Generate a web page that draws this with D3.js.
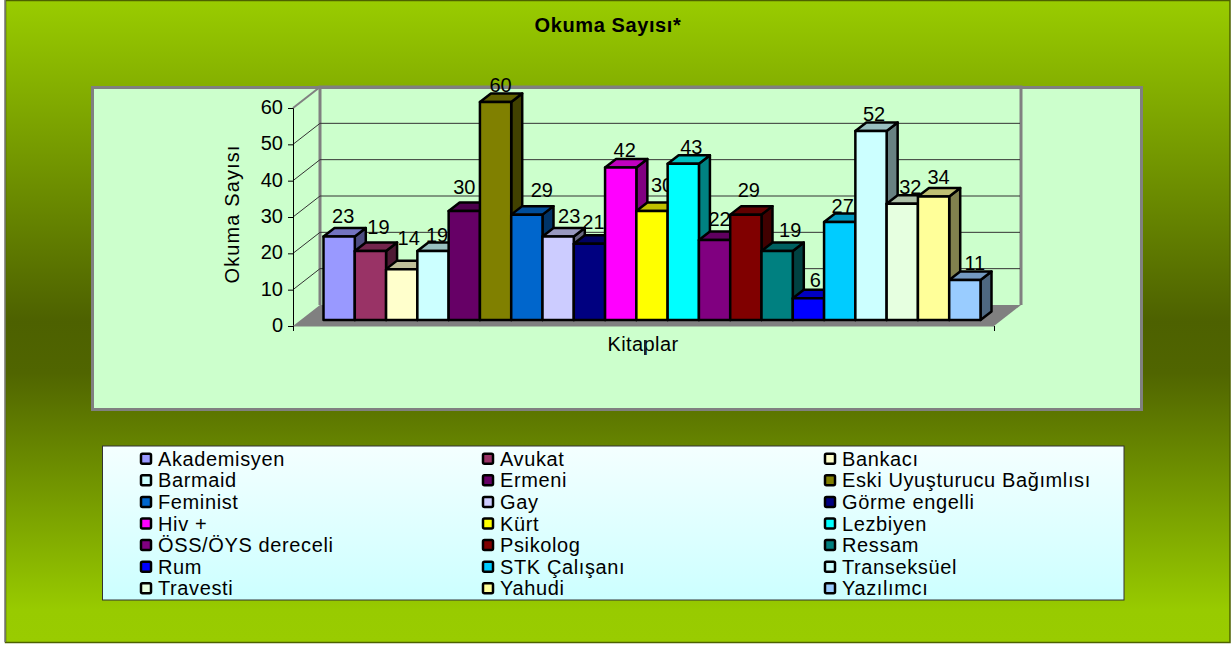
<!DOCTYPE html>
<html>
<head>
<meta charset="utf-8">
<script src="https://cdn.jsdelivr.net/npm/d3@7"></script>
<style>
  html, body { margin: 0; padding: 0; background: #fff; }
  svg { display: block; }
  text { font-family: "Liberation Sans", Arial, sans-serif; fill: #000; }
</style>
</head>
<body>
<div id="chart"></div>
<script>
// Values
const categories = ["Akademisyen", "Avukat", "Bankacı", "Barmaid", "Ermeni", "Eski Uyuşturucu Bağımlısı", "Feminist",
    "Gay", "Görme engelli", "Hiv +", "Kürt", "Lezbiyen", "ÖSS/ÖYS dereceli", "Psikolog", "Ressam", "Rum",
    "STK Çalışanı", "Transeksüel", "Travesti", "Yahudi", "Yazılımcı"];
const values = [23, 19, 14, 19, 30, 60, 29, 23, 21, 42, 30, 43, 22, 29, 19, 6, 27, 52, 32, 34, 11];
const colors = ["#9999ff", "#993366", "#ffffcc", "#ccffff", "#660066", "#808000", "#0066cc",
    "#ccccff", "#000080", "#ff00ff", "#ffff00", "#00ffff", "#800080", "#800000", "#008080", "#0000ff",
    "#00ccff", "#ccffff", "#e6ffe0", "#ffff99", "#99ccff"];
const yTicks = [0, 10, 20, 30, 40, 50, 60];

const width = 1232, height = 646;
const svg = d3.select("#chart").append("svg").attr("width", width).attr("height", height);

// Data labels sit unevenly in the original, so each one gets its own nudge
const labelNudgeX = [4, 8, 7, 4, 0, 5, 15, 11, 4, 4, 10, 8, 5, 3, 13, 7, 3, 3, 8, 5, 10];
const labelNudgeY = [13, 17, 24, 9, 17, 10, 18, 13, 15, 10, 19, 10, 14, 18, 14, 11, 9, 10, 10, 12, 10];

// Gradients
const defs = svg.append("defs");
const bg = defs.append("linearGradient").attr("id", "bg").attr("x1", 0).attr("y1", 0).attr("x2", 0).attr("y2", 1);
bg.append("stop").attr("offset", "0%").attr("stop-color", "#99cc00");
bg.append("stop").attr("offset", "50%").attr("stop-color", "#4d6100");
bg.append("stop").attr("offset", "58%").attr("stop-color", "#506500");
bg.append("stop").attr("offset", "95%").attr("stop-color", "#98cb00");
bg.append("stop").attr("offset", "100%").attr("stop-color", "#99cc00");
const lg = defs.append("linearGradient").attr("id", "lg").attr("x1", 0).attr("y1", 0).attr("x2", 0).attr("y2", 1);
lg.append("stop").attr("offset", "0%").attr("stop-color", "#f4ffff");
lg.append("stop").attr("offset", "100%").attr("stop-color", "#ccffff");

// Outer panel
svg.append("rect").attr("x", 5.5).attr("y", 0.5).attr("width", 1224.5).attr("height", 642)
    .attr("fill", "url(#bg)").attr("stroke", "#4d6100").attr("stroke-width", 1.5);
svg.append("line").attr("x1", 5).attr("x2", 5).attr("y1", 0).attr("y2", 642).attr("stroke", "#808080").attr("stroke-width", 1.5);

svg.append("text").attr("x", 608).attr("y", 32).attr("text-anchor", "middle")
    .style("font-size", "20px").style("font-weight", "bold").style("letter-spacing", "0.6px").text("Okuma Sayısı*");

// Plot area
svg.append("rect").attr("x", 92.5).attr("y", 87.5).attr("width", 1049).attr("height", 322)
    .attr("fill", "#ccffcc").attr("stroke", "#808080").attr("stroke-width", 3);

// Scales, front plane of the 3D box
const y = d3.scaleLinear().domain([0, 60]).range([326, 108]);
const x = d3.scaleBand().domain(categories).range([323.5, 980.5]);
const wallDx = 27, wallDy = -21;      // front plane to back wall
const barDx = 11, barDy = -8.5;       // bar depth
const barLift = -6;                   // bars stand a little behind the front edge
const frontLeft = 293, frontRight = 994;

// Floor
svg.append("path")
    .attr("d", `M${frontLeft},${y(0)}L${frontLeft + wallDx},${y(0) + wallDy}H${frontRight + wallDx}L${frontRight},${y(0)}Z`)
    .attr("fill", "#808080");

// Walls
svg.append("path")
    .attr("d", `M${frontLeft + wallDx},${y(0) + wallDy}V${y(60) + wallDy}H${frontRight + wallDx}V${y(0) + wallDy}`)
    .attr("fill", "none").attr("stroke", "#808080").attr("stroke-width", 3);
svg.append("line")
    .attr("x1", frontLeft).attr("y1", y(60)).attr("x2", frontLeft + wallDx).attr("y2", y(60) + wallDy)
    .attr("stroke", "#808080").attr("stroke-width", 2);

// Gridlines on side and back wall
const grid = svg.append("g").attr("stroke", "#333").attr("fill", "none").attr("stroke-width", 1);
yTicks.filter(d => d > 0 && d < 60).forEach(d => {
    grid.append("path").attr("d", `M${frontLeft},${y(d)}L${frontLeft + wallDx},${y(d) + wallDy}H${frontRight + wallDx - 1}`);
});

// Axes
const yAxis = d3.axisLeft(y).tickValues(yTicks).tickSize(5).tickPadding(5);
const yg = svg.append("g").attr("transform", `translate(${frontLeft},0)`).call(yAxis);
yg.selectAll("text").style("font-size", "20px").attr("dy", "0.28em");
yg.selectAll("line, path").attr("stroke", "#000");

svg.append("line").attr("x1", frontLeft).attr("x2", frontRight).attr("y1", y(0)).attr("y2", y(0))
    .attr("stroke", "#808080").attr("stroke-width", 1);
[frontLeft, frontRight].forEach(d => {
    svg.append("line").attr("x1", d + 0.5).attr("x2", d + 0.5).attr("y1", y(0)).attr("y2", y(0) + 5)
        .attr("stroke", "#000");
});

// Bars, painted left to right so each hides the label of the one before
const shade = (c, k) => d3.rgb(c).darker(k).formatHex();
const bars = svg.selectAll("g.bar").data(categories).enter().append("g").attr("class", "bar");
bars.each(function (d, i) {
    const g = d3.select(this);
    const x0 = x(d), x1 = x0 + x.bandwidth();
    const top = y(values[i]) + barLift, base = y(0) + barLift;
    const face = (path, fill) => g.append("path").attr("d", path).attr("fill", fill)
        .attr("stroke", "#000").attr("stroke-width", 2.5).attr("stroke-linejoin", "round");
    face(`M${x1},${base}L${x1 + barDx},${base + barDy}V${top + barDy}L${x1},${top}Z`, shade(colors[i], 1.9));
    face(`M${x0},${top}L${x0 + barDx},${top + barDy}H${x1 + barDx}L${x1},${top}Z`, shade(colors[i], 0.8));
    face(`M${x0},${base}V${top}H${x1}V${base}Z`, colors[i]);
    g.append("text").attr("x", x0 + x.bandwidth() / 2 + labelNudgeX[i]).attr("y", top - labelNudgeY[i])
        .attr("text-anchor", "middle").style("font-size", "20px").text(values[i]);
});

// Axis titles
svg.append("text").attr("transform", "translate(239,214) rotate(-90)").attr("text-anchor", "middle")
    .style("font-size", "20px").style("letter-spacing", "1.1px").text("Okuma Sayısı");
svg.append("text").attr("x", 643).attr("y", 351).attr("text-anchor", "middle")
    .style("font-size", "20px").style("letter-spacing", "0.4px").text("Kitaplar");
svg.append("line").attr("x1", 645).attr("x2", 645).attr("y1", 340).attr("y2", 355)
    .attr("stroke", "#222").attr("stroke-width", 2);

// Legend
svg.append("rect").attr("x", 102.5).attr("y", 446).attr("width", 1021.5).attr("height", 154)
    .attr("fill", "url(#lg)").attr("stroke", "#333").attr("stroke-width", 1);
const columnX = d3.scaleBand().domain([0, 1, 2]).range([140, 1166]);
const rowY = d3.scaleBand().domain(d3.range(7)).range([448, 599]);
const items = svg.selectAll("g.item").data(categories).enter().append("g").attr("class", "item")
    .attr("transform", (d, i) => `translate(${columnX(i % 3)},${rowY(Math.floor(i / 3)) + rowY.bandwidth() / 2})`);
items.append("rect").attr("x", 1).attr("y", -5).attr("width", 10).attr("height", 10).attr("rx", 1.5)
    .attr("fill", (d, i) => colors[i]).attr("stroke", "#000").attr("stroke-width", 2.5);
items.append("text").attr("x", 18).attr("y", 7)
    .style("font-size", "20px").style("letter-spacing", "0.62px").text(d => d);
</script>
</body>
</html>
